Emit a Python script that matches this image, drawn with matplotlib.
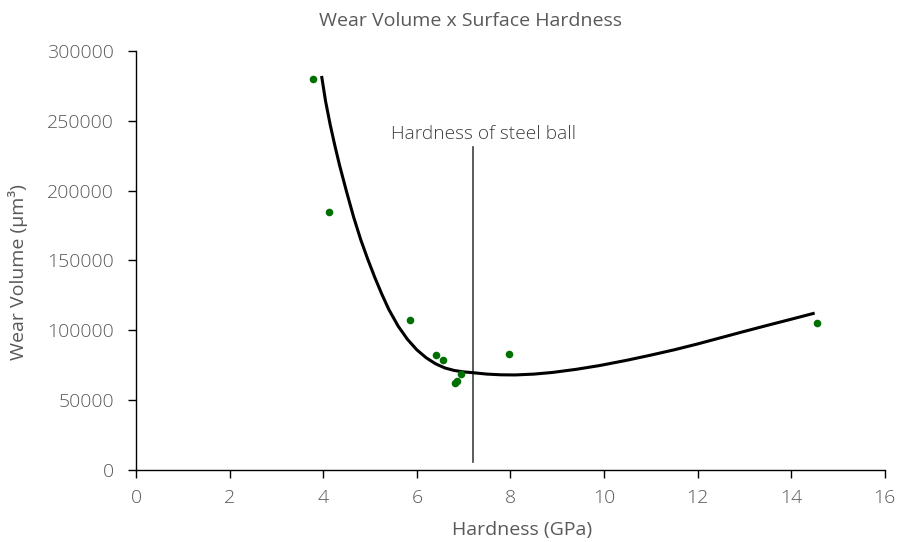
import matplotlib
matplotlib.use("Agg")
import matplotlib.pyplot as plt

# measured points (hardness in GPa, wear volume in um^3)
hardness = [3.78, 4.12, 5.85, 6.41, 6.56, 6.94, 6.81, 6.86, 7.97, 14.55]
wear = [280000, 185000, 107000, 82000, 78500, 69000, 62000, 64000, 83000, 105000]

# trend curve
fit_x = [3.97, 4.05, 4.15, 4.25, 4.35, 4.5, 4.65, 4.8, 4.95, 5.1, 5.25, 5.4,
         5.6, 5.8, 6.0, 6.2, 6.4, 6.6, 6.8, 7.0, 7.2, 7.5, 7.8, 8.1, 8.5,
         8.9, 9.4, 9.9, 10.5, 11.0, 11.5, 12.0, 12.5, 13.0, 13.5, 14.0, 14.47]
fit_y = [281000, 264000, 247000, 232000, 218000, 199000, 181000, 165000, 151000,
         138000, 126000, 115000, 103000, 93500, 86000, 80300, 76000, 73000, 71200,
         70200, 69600, 68600, 68100, 68000, 68600, 69800, 72000, 74700, 78600,
         82200, 86000, 90200, 94700, 99200, 103600, 107900, 112000]

steel_ball = 7.2
steel_line = [5700, 231000]

x_ticks = [0, 2, 4, 6, 8, 10, 12, 14, 16]
y_ticks = [0, 50000, 100000, 150000, 200000, 250000, 300000]

plt.rcParams['font.family'] = ['Open Sans', 'DejaVu Sans']
plt.rcParams['font.weight'] = 'light'
txt = '#595959'

fig = plt.figure(figsize=(9.01, 5.42), dpi=100)
ax = fig.add_axes([0.151, 0.133, 0.831, 0.773])

ax.plot(fit_x, fit_y, color='black', lw=2.2, zorder=2)
ax.scatter(hardness, wear, s=30, color='#007000', zorder=3, linewidths=0)
ax.plot([steel_ball, steel_ball], steel_line, color='#404040', lw=1.2, zorder=1)
ax.text(7.43, 234000, 'Hardness of steel ball', ha='center', va='bottom',
        fontsize=13.8, color='#404040')

ax.set_xlim(0, 16)
ax.set_ylim(0, 300000)
ax.set_xticks(x_ticks)
ax.set_yticks(y_ticks)
ax.set_xticklabels([str(t) for t in x_ticks])
ax.set_yticklabels([str(t) for t in y_ticks])

for s in ['top', 'right']:
    ax.spines[s].set_visible(False)
for s in ['left', 'bottom']:
    ax.spines[s].set_color('black')
    ax.spines[s].set_linewidth(1.0)
ax.tick_params(direction='out', length=6, width=1, colors='black',
               labelcolor=txt, labelsize=14)
ax.tick_params(axis='y', pad=10)
ax.tick_params(axis='x', pad=8)

ax.set_xlabel('Hardness (GPa)', fontsize=14, color=txt)
ax.xaxis.set_label_coords(0.515, -0.122)
ax.set_ylabel('Wear Volume (µm³)', fontsize=14, color=txt)
ax.yaxis.set_label_coords(-0.144, 0.473)
ax.set_title('Wear Volume x Surface Hardness', fontsize=14, color=txt,
             x=0.447, pad=18)

fig.savefig('out.png', dpi=100)
